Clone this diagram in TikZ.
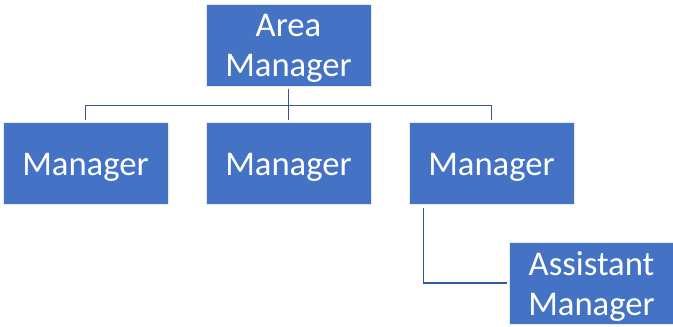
\documentclass[tikz,border=0pt]{standalone}
\usepackage{fontspec}
\setmainfont{Carlito}
\usetikzlibrary{positioning,calc}
\definecolor{boxblue}{RGB}{68,114,196}
\definecolor{linkblue}{RGB}{52,88,156}
\tikzset{
  person/.style={rectangle, draw=white!85!boxblue, line width=0.6pt, fill=boxblue,
    minimum width=123.75pt, minimum height=61.5pt, inner sep=0pt,
    label={[personlabel]center:{#1}}},
  personlabel/.style={text=white, align=center, yshift=-2.6pt,
    font=\fontsize{26}{30.5}\selectfont, inner sep=0pt},
  link/.style={draw=linkblue, line width=1.1pt}
}
\begin{document}
\begin{tikzpicture}[x=0.75pt,y=-0.75pt]
            \useasboundingbox (0,0) rectangle (673,327);
            \node[person={Area\\Manager}] (area) at (288.5,45) {}; % top
            \node[person=Manager] (mgrA) at (85.5,163.5) {};
            \node[person=Manager] (mgrB) at (288.5,163.5) {};
            \node[person=Manager] (mgrC) at (491.5,163.5) {};
            \node[person={Assistant\\Manager}] (asst) at (591.5,283) {};
            \coordinate (bus) at ($(area.south)+(0,19)$);
            \draw[link, shorten <=2pt] (area.south) -- (bus);
            \foreach \m in {mgrA,mgrB,mgrC}
            \draw[link, shorten >=1.5pt] (bus) -| (\m.north);
            \draw[link, shorten <=2pt, shorten >=1.5pt] ($(mgrC.south west)+(15,0)$) |- (asst.west);
\end{tikzpicture}
\end{document}
